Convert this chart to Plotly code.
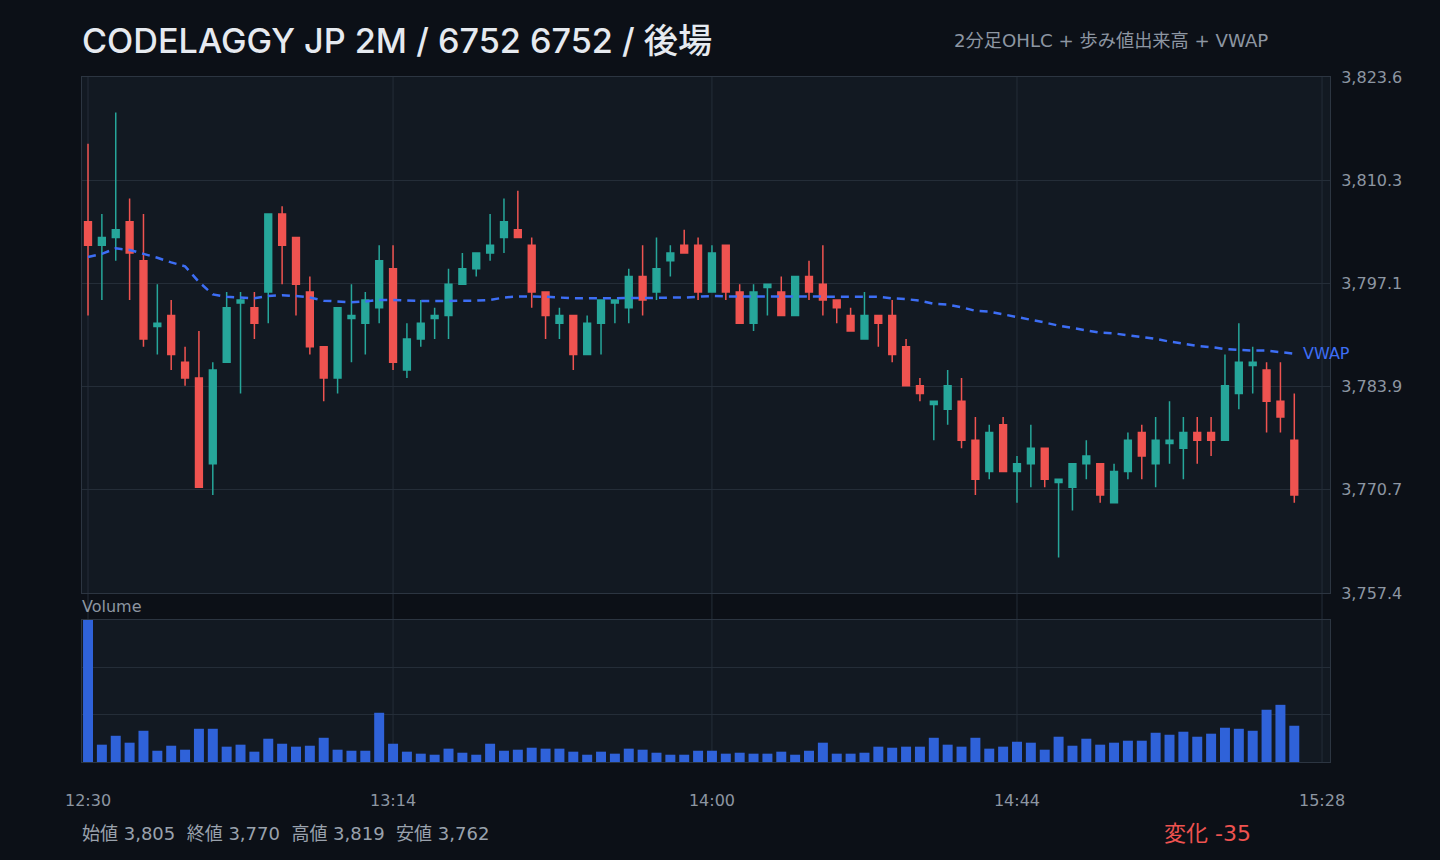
import pandas as pd
import plotly.graph_objects as go

# ---------------- data ----------------
TIMES = pd.date_range("2024-06-14 12:30", periods=88, freq="2min")

OPEN = [3805, 3802, 3803, 3805, 3800, 3791.6, 3793, 3787, 3785, 3774,
        3787, 3794.6, 3794, 3796, 3806, 3803, 3796, 3789, 3785, 3792.6,
        3792, 3794, 3799, 3786, 3790, 3792.6, 3793, 3797, 3799, 3801,
        3803, 3804, 3802, 3796, 3792, 3793, 3788, 3792, 3794.6, 3794,
        3798, 3796, 3800, 3802, 3802, 3796, 3802, 3796, 3792, 3796.6,
        3796, 3793, 3798, 3797, 3795, 3793, 3790, 3793, 3793, 3789,
        3784, 3781.6, 3781, 3782, 3777, 3773, 3779, 3773, 3774, 3776,
        3771.6, 3771, 3774, 3774, 3769, 3773, 3778, 3774, 3776.6, 3776,
        3778, 3778, 3777, 3783, 3786.6, 3786, 3782, 3777]
HIGH = [3815, 3806, 3819, 3808, 3806, 3797, 3795, 3789, 3791, 3787,
        3796, 3796, 3796, 3806, 3807, 3803, 3798, 3789, 3794, 3797,
        3796, 3802, 3802, 3792, 3795, 3794, 3799, 3801, 3801, 3806,
        3808, 3809, 3803, 3796, 3794, 3793, 3793, 3795, 3795, 3799,
        3802, 3803, 3802, 3804, 3803, 3802, 3802, 3797, 3797, 3797,
        3798, 3798, 3800, 3802, 3795, 3794, 3796, 3793, 3795, 3790,
        3785, 3782, 3786, 3785, 3780, 3779, 3780, 3775, 3779, 3776,
        3772, 3774, 3777, 3774, 3774, 3778, 3779, 3780, 3782, 3780,
        3780, 3780, 3788, 3792, 3789, 3787, 3787, 3783]
LOW = [3793, 3795, 3800, 3795, 3789, 3788, 3786, 3784, 3771, 3770,
       3787, 3783, 3790, 3792, 3797, 3793, 3788, 3782, 3783, 3787,
       3788, 3792, 3786, 3785, 3789, 3790, 3790, 3797, 3798, 3800,
       3801, 3803, 3794, 3790, 3790, 3786, 3788, 3788, 3792, 3792,
       3793, 3795, 3798, 3801, 3795, 3796, 3795, 3792, 3791, 3793,
       3793, 3793, 3795, 3793, 3792, 3791, 3790, 3789, 3787, 3784,
       3782, 3777, 3779, 3776, 3770, 3772, 3773, 3769, 3771, 3771,
       3762, 3768, 3772, 3769, 3769, 3772, 3772, 3771, 3774, 3772,
       3774, 3775, 3777, 3781, 3783, 3778, 3778, 3769]
CLOSE = [3802, 3803, 3804, 3801, 3790, 3792, 3788, 3785, 3771, 3786,
         3794, 3795, 3792, 3806, 3802, 3797, 3789, 3785, 3794, 3793,
         3795, 3800, 3787, 3790, 3792, 3793, 3797, 3799, 3801, 3802,
         3805, 3803, 3796, 3793, 3793, 3788, 3792, 3795, 3795, 3798,
         3795, 3799, 3801, 3801, 3796, 3801, 3796, 3792, 3796, 3797,
         3793, 3798, 3796, 3795, 3794, 3791, 3793, 3792, 3788, 3784,
         3783, 3782, 3784, 3777, 3772, 3778, 3773, 3774, 3776, 3772,
         3772, 3774, 3775, 3770, 3773, 3777, 3775, 3777, 3777, 3778,
         3777, 3777, 3784, 3787, 3787, 3782, 3780, 3770]
VOLUME = [150000, 18300, 27700, 20400, 33000, 11900, 17200, 13000, 35100, 35100,
          16200, 18300, 10900, 24600, 19300, 16200, 17200, 25600, 13000, 11900,
          11900, 52000, 19300, 10900, 8800, 7700, 14100, 9800, 7700, 19300,
          11900, 13000, 15100, 14100, 14100, 10900, 7700, 10900, 8800, 14100,
          13000, 9800, 7700, 7700, 11900, 11900, 8800, 9800, 8800, 8800,
          10900, 7700, 11900, 20400, 8800, 8800, 9800, 16200, 15100, 16200,
          16200, 25600, 18300, 16200, 25600, 14100, 16200, 21400, 20400, 13000,
          26700, 17200, 24600, 18300, 20400, 22500, 22500, 30900, 28800, 32000,
          26700, 29900, 36200, 35100, 33000, 55200, 60400, 38300]
VWAP = [3800.5, 3800.9, 3801.6, 3801.4, 3800.9, 3800.4, 3799.8, 3799.3, 3797.3, 3795.7,
        3795.4, 3795.3, 3795.2, 3795.5, 3795.6, 3795.5, 3795.3, 3794.9, 3794.8, 3794.7,
        3794.8, 3795.0, 3795.0, 3794.9, 3794.85, 3794.85, 3794.85, 3794.85, 3794.9, 3795.0,
        3795.3, 3795.45, 3795.45, 3795.4, 3795.3, 3795.2, 3795.2, 3795.2, 3795.2, 3795.2,
        3795.2, 3795.25, 3795.3, 3795.3, 3795.4, 3795.5, 3795.45, 3795.45, 3795.45, 3795.45,
        3795.45, 3795.45, 3795.45, 3795.45, 3795.45, 3795.45, 3795.4, 3795.4, 3795.2, 3795.1,
        3794.9, 3794.5, 3794.4, 3794.05, 3793.6, 3793.5, 3793.15, 3792.8, 3792.5, 3792.1,
        3791.7, 3791.4, 3791.06, 3790.8, 3790.7, 3790.5, 3790.25, 3790.0, 3789.65, 3789.4,
        3789.1, 3788.95, 3788.7, 3788.6, 3788.5, 3788.5, 3788.3, 3788.1]

X_TICK_TIMES = ["2024-06-14 12:30", "2024-06-14 13:14", "2024-06-14 14:00",
                "2024-06-14 14:44", "2024-06-14 15:28"]
X_TICK_LABELS = ["12:30", "13:14", "14:00", "14:44", "15:28"]
X_RANGE = ["2024-06-14 12:29:08", "2024-06-14 15:29:09"]

PRICE_RANGE = [3757.44, 3823.56]
PRICE_TICK_LABELS = ["3,757.4", "3,770.7", "3,783.9", "3,797.1", "3,810.3", "3,823.6"]
VOL_RANGE = [0, 150000]

TITLE = "CODELAGGY JP 2M / 6752 6752 / 後場"
SUBTITLE = "2分足OHLC + 歩み値出来高 + VWAP"
STATS = ["始値 3,805", "終値 3,770", "高値 3,819", "安値 3,762"]
CHANGE = "変化 -35"

# ---------------- style ----------------
W, H = 1440, 860
L, R, T, B = 82, 1330, 77, 762          # pixel frame of the plotting area
PRICE_BOTTOM, VOL_TOP = 593, 620

PAPER = "#0c1017"
PLOT = "#121922"
GRID = "#242d38"
FRAME = "#2c3541"
GREEN = "#26a69a"
RED = "#ef5350"
VOLC = "#2f62d9"
VWAPC = "#3d6ef5"
TXT = "#e6eaf0"
MUTED = "#8d96a2"
FONT = "'DejaVu Sans', 'Noto Sans CJK JP', sans-serif"
TITLE_FONT = "Inter, 'Noto Sans CJK JP', sans-serif"

pw, ph = R - L, B - T


def px(x):
    return (x - L) / pw


def py(y):
    return (B - y) / ph


step = (PRICE_RANGE[1] - PRICE_RANGE[0]) / (len(PRICE_TICK_LABELS) - 1)
price_tickvals = [PRICE_RANGE[0] + i * step for i in range(len(PRICE_TICK_LABELS))]

fig = go.Figure()

fig.add_trace(go.Candlestick(
    x=TIMES, open=OPEN, high=HIGH, low=LOW, close=CLOSE,
    increasing=dict(line=dict(color=GREEN, width=1.5), fillcolor=GREEN),
    decreasing=dict(line=dict(color=RED, width=1.5), fillcolor=RED),
    whiskerwidth=0, xaxis="x", yaxis="y", showlegend=False, name="OHLC",
))

fig.add_trace(go.Scatter(
    x=TIMES, y=VWAP, mode="lines",
    line=dict(color=VWAPC, width=2.5, dash="8px,6px"),
    xaxis="x", yaxis="y", showlegend=False, name="VWAP",
))

fig.add_trace(go.Bar(
    x=TIMES, y=VOLUME, marker=dict(color=VOLC, line=dict(width=0)),
    xaxis="x2", yaxis="y2", showlegend=False, name="Volume",
))

# vertical grid lines spanning both panels
shapes = []
for t in X_TICK_TIMES:
    shapes.append(dict(type="line", xref="x", yref="paper", x0=t, x1=t,
                       y0=0, y1=1, line=dict(color=GRID, width=1), layer="below"))

fig.update_layout(
    width=W, height=H,
    margin=dict(l=L, r=W - R, t=T, b=H - B, pad=0),
    paper_bgcolor=PAPER, plot_bgcolor=PLOT,
    font=dict(family=FONT, color=MUTED, size=16),
    bargap=0.28, boxgap=0.3,
    shapes=shapes,
    xaxis=dict(
        domain=[0, 1], anchor="y", type="date", range=X_RANGE,
        rangeslider=dict(visible=False), showgrid=False, zeroline=False,
        showticklabels=False, showline=True, linecolor=FRAME, mirror=True,
        linewidth=1,
    ),
    yaxis=dict(
        domain=[py(PRICE_BOTTOM), 1], anchor="x", side="right",
        range=PRICE_RANGE, tickvals=price_tickvals, ticktext=PRICE_TICK_LABELS,
        showgrid=True, gridcolor=GRID, gridwidth=1, zeroline=False,
        showline=True, linecolor=FRAME, mirror=True, linewidth=1,
        tickfont=dict(size=16, color=MUTED), ticks="", ticklabelstandoff=7,
    ),
    xaxis2=dict(
        domain=[0, 1], anchor="y2", type="date", range=X_RANGE, matches="x",
        showgrid=False, zeroline=False, showline=True, linecolor=FRAME,
        mirror=True, linewidth=1,
        tickvals=X_TICK_TIMES, ticktext=X_TICK_LABELS, ticks="",
        tickfont=dict(size=16, color=MUTED), ticklabelstandoff=24,
    ),
    yaxis2=dict(
        domain=[0, py(VOL_TOP)], anchor="x2", range=VOL_RANGE, dtick=50000,
        showgrid=True, gridcolor=GRID, gridwidth=1, zeroline=False,
        showticklabels=False, showline=True, linecolor=FRAME, mirror=True,
        linewidth=1,
    ),
    hovermode=False,
)

annotations = [
    dict(text=TITLE, x=px(80), y=py(40), xanchor="left", yanchor="middle",
         font=dict(family=TITLE_FONT, size=34.2, color=TXT, weight=500)),
    dict(text=SUBTITLE, x=px(1270), y=py(40), xanchor="right", yanchor="middle",
         font=dict(size=18.2, color=MUTED)),
    dict(text="Volume", x=px(80), y=py(606), xanchor="left", yanchor="middle",
         font=dict(size=16, color=MUTED)),
    dict(text="\u00a0\u00a0".join(STATS), x=px(80), y=py(833), xanchor="left",
         yanchor="middle", font=dict(size=18, color="#9aa2ad")),
    dict(text=CHANGE, x=px(1253), y=py(833), xanchor="right", yanchor="middle",
         font=dict(size=22, color=RED)),
]
for a in annotations:
    a.update(xref="paper", yref="paper", showarrow=False)

annotations.append(dict(
    text="VWAP", x=TIMES[-1], y=VWAP[-1], xref="x", yref="y",
    xanchor="left", yanchor="middle", xshift=7, showarrow=False,
    font=dict(size=16, color=VWAPC),
))
fig.update_layout(annotations=annotations)

fig.write_html("out.html")
